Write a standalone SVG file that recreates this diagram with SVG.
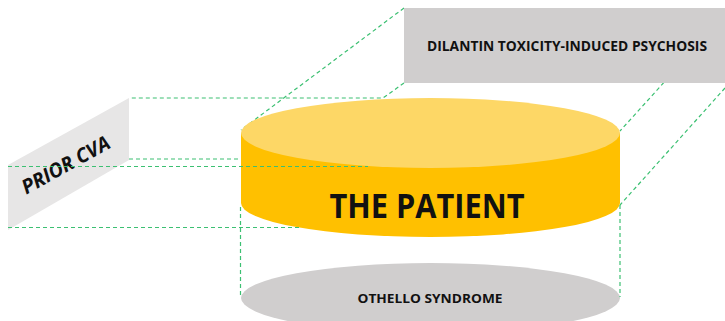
<svg xmlns="http://www.w3.org/2000/svg" width="725" height="321" viewBox="0 0 725 321">
<style>
.dash{fill:none;stroke:#3CC072;stroke-width:1.2;stroke-dasharray:4 3}
.lbl{font-family:"Open Sans","Liberation Sans",sans-serif;font-weight:bold;fill:#111;text-anchor:middle}
</style>
<rect width="725" height="321" fill="#fff"/>
<g id="connectors-back">
<path class="dash" d="M404,8 L241,130"/>
<path class="dash" d="M404,83 L383,98 L129,98"/>
<path class="dash" d="M129,159 L241,159"/>
<path class="dash" d="M725,15 L620,131"/>
<path class="dash" d="M725,88 L620,205"/>
</g>
<g id="dilantin">
<rect x="404" y="8" width="321" height="75" fill="#D0CECE"/>
<text class="lbl" x="567" y="51" font-size="15" textLength="280" lengthAdjust="spacingAndGlyphs">DILANTIN TOXICITY-INDUCED PSYCHOSIS</text>
</g>
<g id="prior-cva">
<polygon points="8,165 129,98 129,160 8,230" fill="#E7E6E6"/>
<text class="lbl" x="69" y="171" font-size="20" font-style="italic" transform="rotate(-29 69 171)" textLength="98" lengthAdjust="spacingAndGlyphs">PRIOR CVA</text>
</g>
<g id="othello">
<ellipse cx="430.5" cy="298" rx="189.5" ry="35" fill="#D0CECE"/>
<text class="lbl" x="430" y="303" font-size="12.5" textLength="145" lengthAdjust="spacingAndGlyphs">OTHELLO SYNDROME</text>
</g>
<g id="patient">
<path d="M241,133 L241,203 A189.5,34 0 0 0 620,203 L620,133 Z" fill="#FFC000"/>
<ellipse cx="430.5" cy="133" rx="189.5" ry="35" fill="#FDD766"/>
<text class="lbl" x="427" y="218" font-size="34" textLength="195" lengthAdjust="spacingAndGlyphs">THE PATIENT</text>
</g>
<g id="connectors-front">
<path class="dash" d="M8,166.5 L368,166.5"/>
<path class="dash" d="M8,227.5 L300,227.5"/>
<path class="dash" d="M240.5,207 L240.5,297"/>
<path class="dash" d="M620,205 L620,297"/>
</g>
</svg>
